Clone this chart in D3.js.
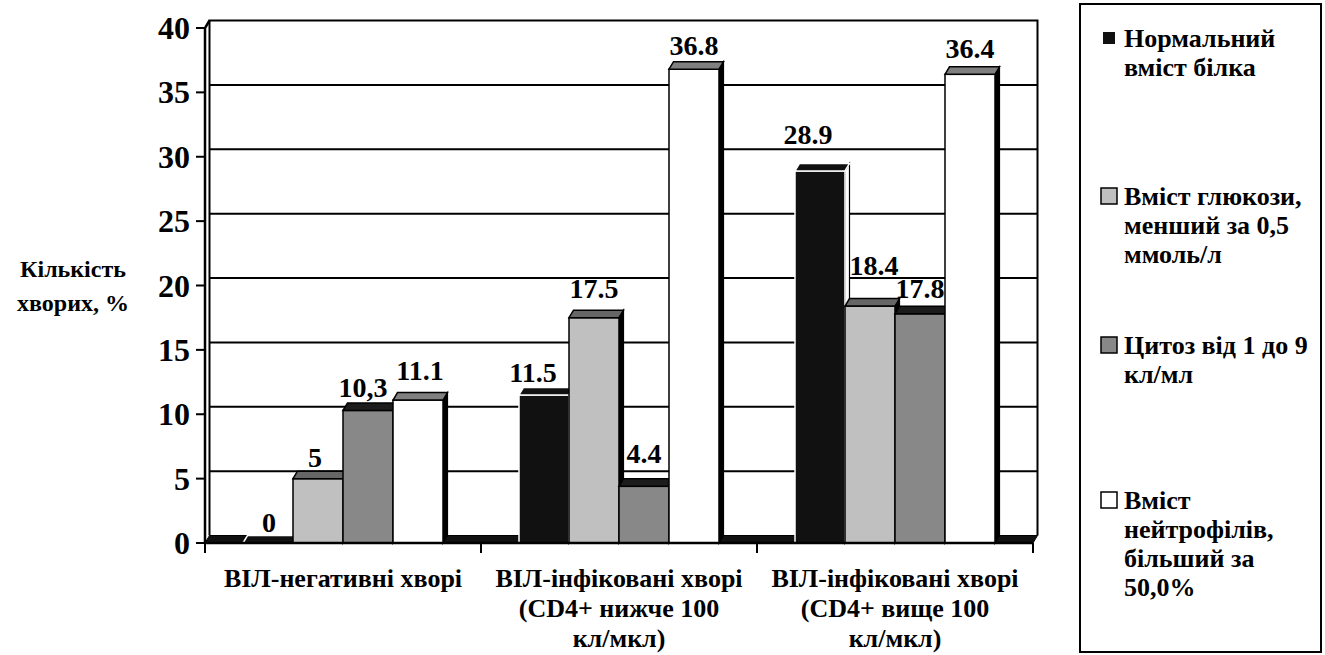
<!DOCTYPE html>
<html><head><meta charset="utf-8">
<script src="https://cdn.jsdelivr.net/npm/d3@7"></script>
</head><body style="margin:0">
<svg id="c" width="1325" height="655"></svg>
<script>
// ---------- data ----------
const categories = ["ВІЛ-негативні хворі", "ВІЛ-інфіковані хворі (CD4+ нижче 100 кл/мкл)", "ВІЛ-інфіковані хворі (CD4+ вище 100 кл/мкл)"];
const categoryLines = [["ВІЛ-негативні хворі"], ["ВІЛ-інфіковані хворі", "(CD4+ нижче 100", "кл/мкл)"], ["ВІЛ-інфіковані хворі", "(CD4+ вище 100", "кл/мкл)"]];
const seriesNames = ["Нормальний вміст білка", "Вміст глюкози, менший за 0,5 ммоль/л", "Цитоз від 1 до 9 кл/мл", "Вміст нейтрофілів, більший за 50,0%"];
const seriesLegendLines = [["Нормальний", "вміст білка"], ["Вміст глюкози,", "менший за 0,5", "ммоль/л"], ["Цитоз від 1 до 9", "кл/мл"], ["Вміст", "нейтрофілів,", "більший за", "50,0%"]];
const normalProtein = [0, 11.5, 28.9];
const lowGlucose = [5, 17.5, 18.4];
const cytosis = [10.3, 4.4, 17.8];
const neutrophils = [11.1, 36.8, 36.4];
const normalProteinLabels = ["0", "11.5", "28.9"];
const lowGlucoseLabels = ["5", "17.5", "18.4"];
const cytosisLabels = ["10,3", "4.4", "17.8"];
const neutrophilsLabels = ["11.1", "36.8", "36.4"];
const yTicks = [0, 5, 10, 15, 20, 25, 30, 35, 40];
const yTitle = ["Кількість", "хворих, %"];

// ---------- layout / style (not data) ----------
const FONT = "Liberation Serif";
const seriesValues = [normalProtein, lowGlucose, cytosis, neutrophils];
const seriesLabels = [normalProteinLabels, lowGlucoseLabels, cytosisLabels, neutrophilsLabels];
const frontFill = ["#111111", "#c0c0c0", "#888888", "#ffffff"];
const topFill = ["#111111", "#666666", "#1c1c1c", "#808080"];
const sideFill = ["#ffffff", "#000000", "#000000", "#000000"];
const edgeStroke = ["#ffffff", "#000000", "#000000", "#000000"];
// label nudges in px [dx, baseline dy] relative to bar top centre
const labelNudge = [
  [[1, -11], [-11, -13], [-12, -27]],
  [[-3, -12], [0, -20], [4, -31]],
  [[-5, -13], [0, -23], [0, -16]],
  [[2, -20], [0, -14], [0, -16]]
];
const DX = 4.5, DY = 7.5;
const left = 205, right = 1033, top0 = 28, base = 543;

const svg = d3.select("#c");
function addText(x, yy, size, str, anchor) {
  return svg.append("text")
    .attr("x", x).attr("y", yy)
    .attr("font-size", size).attr("font-weight", "bold").attr("font-family", FONT)
    .style("font-family", FONT, "important")
    .style("font-weight", "bold", "important")
    .attr("text-anchor", anchor || "start")
    .attr("fill", "#000")
    .text(str);
}
const y = d3.scaleLinear().domain([0, 40]).range([base, top0]);
const x0 = d3.scaleBand().domain(categories).range([left, right]).paddingInner(0).paddingOuter(0);
const x1 = d3.scaleBand().domain(seriesNames).range([0, x0.bandwidth()]).paddingInner(0).paddingOuter(0.76);

// back wall gridlines
const g = svg.append("g");
g.selectAll("line").data(yTicks.filter(t => t > 0 && t < 40)).join("line")
  .attr("x1", left + DX).attr("x2", right + DX)
  .attr("y1", d => y(d) - DY).attr("y2", d => y(d) - DY)
  .attr("stroke", "#000").attr("stroke-width", 2);
g.append("path")
  .attr("d", `M${left + DX},${base - DY}V${y(40) - DY}H${right + DX}V${base - DY}`)
  .attr("fill", "none").attr("stroke", "#000").attr("stroke-width", 2);
g.append("path")
  .attr("d", `M${left},${base}L${right},${base}L${right + DX},${base - DY}L${left + DX},${base - DY}Z`)
  .attr("fill", "#111").attr("stroke", "#000").attr("stroke-width", 1);

// bars
const bars = svg.append("g");
categories.forEach((c, ci) => {
  seriesNames.forEach((s, si) => {
    const v = seriesValues[si][ci];
    const xl = x0(c) + x1(s), w = x1.bandwidth(), yt = y(v), yb = y(0);
    const bg = bars.append("g");
    bg.append("path")
      .attr("d", `M${xl + w},${yt}L${xl + w + DX},${yt - DY}L${xl + w + DX},${yb - DY}L${xl + w},${yb}Z`)
      .attr("fill", sideFill[si]).attr("stroke", "#000").attr("stroke-width", 1.2);
    bg.append("rect").attr("x", xl).attr("y", yt).attr("width", w).attr("height", yb - yt)
      .attr("fill", frontFill[si]).attr("stroke", edgeStroke[si]).attr("stroke-width", 1.5);
    bg.append("path")
      .attr("d", `M${xl},${yt}L${xl + DX},${yt - DY}L${xl + w + DX},${yt - DY}L${xl + w},${yt}Z`)
      .attr("fill", topFill[si]).attr("stroke", edgeStroke[si]).attr("stroke-width", 1.5);
  });
});

// value labels
categories.forEach((c, ci) => {
  seriesNames.forEach((s, si) => {
    const v = seriesValues[si][ci];
    const n = labelNudge[si][ci];
    addText(x0(c) + x1(s) + x1.bandwidth() / 2 + n[0], y(v) + n[1], 28, seriesLabels[si][ci], "middle");
  });
});

// y axis (ticks from the scale)
yTicks.forEach(t => {
  svg.append("line").attr("x1", left - 9).attr("x2", left).attr("y1", y(t)).attr("y2", y(t))
    .attr("stroke", "#000").attr("stroke-width", 2);
  addText(left - 15, y(t) + 11, 32, String(t), "end");
});
svg.append("path")
  .attr("d", `M${left},${base}V${y(40)}L${left + DX},${y(40) - DY}`)
  .attr("fill", "none").attr("stroke", "#000").attr("stroke-width", 2.5);

// x axis
svg.append("line").attr("x1", left).attr("x2", right).attr("y1", base).attr("y2", base)
  .attr("stroke", "#000").attr("stroke-width", 2.5);
const xt = [left].concat(categories.map(c => x0(c) + x0.bandwidth()));
xt.forEach(d => {
  svg.append("line").attr("x1", d).attr("x2", d).attr("y1", base).attr("y2", base + 10)
    .attr("stroke", "#000").attr("stroke-width", 2);
});
categories.forEach((c, ci) => {
  categoryLines[ci].forEach((ln, li) => {
    addText(x0(c) + x0.bandwidth() / 2, 587 + li * 30, 26, ln, "middle");
  });
});

// y title
yTitle.forEach((t, i) => {
  addText(73, 277 + i * 34, 24, t, "middle");
});

// legend
svg.append("rect").attr("x", 1080).attr("y", 4).attr("width", 241).attr("height", 648)
  .attr("fill", "#fff").attr("stroke", "#000").attr("stroke-width", 2);
const legendTop = [38, 196, 345, 500];
seriesNames.forEach((s, si) => {
  const cy = legendTop[si];
  const sz = si === 0 ? 12 : 16;
  svg.append("rect").attr("x", 1109 - sz / 2).attr("y", cy - sz / 2)
    .attr("width", sz).attr("height", sz)
    .attr("fill", frontFill[si]).attr("stroke", "#000").attr("stroke-width", si === 0 ? 0 : 1.5);
  seriesLegendLines[si].forEach((ln, li) => {
    addText(1124, cy + 9 + li * 29, 26, ln);
  });
});
</script>
</body></html>
